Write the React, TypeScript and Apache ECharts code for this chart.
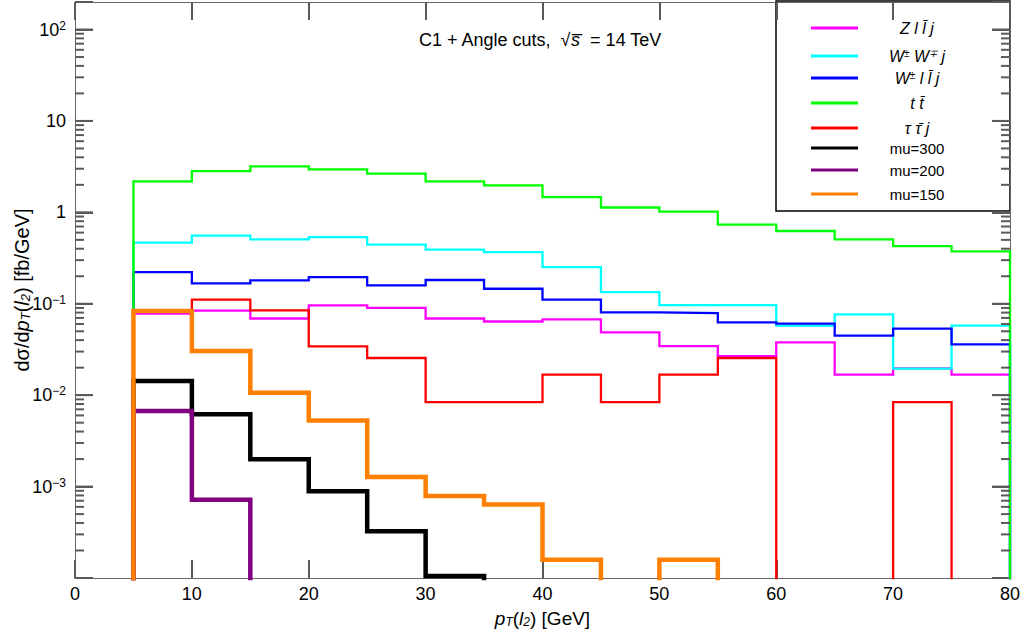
import React, { useEffect, useRef } from "react";
import * as echarts from "echarts";

// ---------- data ----------
const binEdges = [5, 10, 15, 20, 25, 30, 35, 40, 45, 50, 55, 60, 65, 70, 75, 80];

const zllj = [0.078, 0.084, 0.069, 0.096, 0.09, 0.069, 0.064, 0.0675, 0.0486, 0.0344, 0.0268, 0.0378, 0.0168, 0.0196, 0.0168];
const wwj = [0.466, 0.556, 0.507, 0.537, 0.443, 0.391, 0.368, 0.252, 0.134, 0.0968, 0.0968, 0.0576, 0.0766, 0.0195, 0.0576];
const wllj = [0.222, 0.167, 0.18, 0.196, 0.159, 0.182, 0.146, 0.111, 0.0805, 0.0792, 0.0626, 0.0605, 0.0448, 0.0534, 0.036];
const ttbar = [2.18, 2.83, 3.19, 2.95, 2.65, 2.18, 1.97, 1.47, 1.13, 1.02, 0.733, 0.625, 0.507, 0.428, 0.374];
const tautauj = [0.0847, 0.111, 0.0847, 0.0342, 0.0255, 0.0084, 0.0084, 0.0168, 0.0084, 0.0168, 0.0255, 0, 0, 0.0084, 0];
const mu300 = [0.0143, 0.0062, 0.00199, 0.00089, 0.000324, 0.000105, 0, 0, 0, 0, 0, 0, 0, 0, 0];
const mu200 = [0.0067, 0.00072, 0, 0, 0, 0, 0, 0, 0, 0, 0, 0, 0, 0, 0];
const mu150 = [0.0832, 0.0304, 0.0106, 0.0053, 0.00127, 0.000787, 0.000638, 0.000158, 0, 0.000158, 0, 0, 0, 0, 0];

const seriesKeys = ["zllj", "wwj", "wllj", "ttbar", "tautauj", "mu300", "mu200", "mu150"];
const seriesValues = [zllj, wwj, wllj, ttbar, tautauj, mu300, mu200, mu150];
const seriesColors = ["#ff00ff", "#00ffff", "#0000ff", "#00ff00", "#ff0000", "#000000", "#800080", "#ff8000"];
const seriesWidths = [2.3, 2.3, 2.3, 2.3, 2.3, 4.5, 4.5, 4.5];

// legend labels (rich text)
const legendLabels = [
  "{i|Z l l\u0304 j}",
  "{i|W}{sup|\u00b1}{i| W}{sup|\u2213}{i| j}",
  "{i|W}{sup|\u00b1}{i| l l\u0304 j}",
  "{i|t t\u0304}",
  "{i|\u03c4 \u03c4\u0304 j}",
  "{n|mu=300}",
  "{n|mu=200}",
  "{n|mu=150}",
];

// axis ticks
const xTicks = [0, 10, 20, 30, 40, 50, 60, 70, 80];
const yMajorValues = [0.001, 0.01, 0.1, 1, 10, 100];
const yMajorBase = ["10", "10", "10", "1", "10", "10"];
const yMajorExp = ["\u22123", "\u22122", "\u22121", "", "", "2"];
const yMinorMantissas = [2, 3, 4, 5, 6, 7, 8, 9];
const yDecades = [0.0001, 0.001, 0.01, 0.1, 1, 10, 100];

const X_MIN = 0;
const X_MAX = 80;
const Y_MIN = 0.0001;
const Y_MAX = 200;
const TINY = 1e-9;

const FONT = "'Liberation Sans', Arial, Helvetica, sans-serif";
const NARROW = "'Liberation Sans Narrow', 'Liberation Sans', Arial, sans-serif";
const TICK_COLOR = "#5a5a5a";

function histPoints(vals: number[]) {
  const pts: number[][] = [[binEdges[0], TINY]];
  vals.forEach((v, i) => {
    const y = v > 0 ? v : TINY;
    pts.push([binEdges[i], y]);
    pts.push([binEdges[i + 1], y]);
  });
  pts.push([binEdges[binEdges.length - 1], TINY]);
  return pts;
}

export default function App() {
  const ref = useRef<HTMLDivElement>(null);

  useEffect(() => {
    document.body.style.margin = "0";
    if (!ref.current) return;
    const chart = echarts.init(ref.current, undefined, { renderer: "svg" });

    // y tick marks: [kind, x, y]; kind 0 = minor, 1 = major
    const tickData: number[][] = [];
    yDecades.forEach((d) => {
      yMinorMantissas.forEach((m) => {
        const v = d * m;
        if (v < Y_MAX * 0.999) tickData.push([0, X_MIN, v]);
      });
    });
    yMajorValues.forEach((v) => tickData.push([1, X_MIN, v]));

    const lineSeries = seriesKeys.map((k, i) => ({
      name: k,
      type: "line",
      data: histPoints(seriesValues[i]),
      symbol: "none",
      showSymbol: false,
      clip: true,
      lineStyle: { color: seriesColors[i], width: seriesWidths[i], join: "miter" },
      itemStyle: { color: seriesColors[i] },
      z: 3,
      silent: true,
    }));

    const legendX0 = 776;
    const legendRows = [28, 56, 78, 103, 128, 148, 170, 194];
    const graphicEls: any[] = [
      {
        type: "rect",
        z: -2,
        shape: { x: legendX0, y: 1, width: 1010 - legendX0, height: 210 },
        style: { fill: "#ffffff", stroke: "#000000", lineWidth: 1.5 },
      },
    ];
    legendRows.forEach((y, i) => {
      graphicEls.push({
        type: "line",
        z: -1,
        shape: { x1: 811, y1: y, x2: 858, y2: y },
        style: { stroke: seriesColors[i], lineWidth: 3 },
      });
      graphicEls.push({
        type: "text",
        z: -1,
        x: 917,
        y: y,
        style: {
          text: legendLabels[i],
          align: "center",
          verticalAlign: "middle",
          textAlign: "center",
          textVerticalAlign: "middle",
          rich: {
            i: { fontFamily: FONT, fontStyle: "italic", fontSize: 16, fill: "#000" },
            n: { fontFamily: FONT, fontSize: 15, fill: "#000" },
            sup: { fontFamily: FONT, fontStyle: "italic", fontSize: 10, verticalAlign: "top", fill: "#000" },
          },
        },
      });
    });
    graphicEls.push({
      type: "text",
      x: 540,
      y: 40,
      style: {
        text: "{n|C1 + Angle cuts,  \u221a}{i|s\u0305}{n|  = 14 TeV}",
        align: "center",
        verticalAlign: "middle",
        textAlign: "center",
        textVerticalAlign: "middle",
        rich: {
          n: { fontFamily: FONT, fontSize: 18, fill: "#000" },
          i: { fontFamily: FONT, fontSize: 18, fontStyle: "italic", fill: "#000" },
        },
      },
    });

    const axisLineStyle = { color: "#666", width: 1 };
    const tickStyle = () => ({ color: TICK_COLOR, width: 2 });

    const option: any = {
      animation: false,
      backgroundColor: "#ffffff",
      grid: {
        left: 75,
        right: 14,
        top: 2,
        bottom: 61,
        containLabel: false,
        outerBoundsMode: "none",
        show: false,
      },
      xAxis: [
        {
          type: "value",
          min: X_MIN,
          max: X_MAX,
          interval: 10,
          position: "bottom",
          axisLine: { show: true, onZero: false, lineStyle: { ...axisLineStyle } },
          axisTick: { show: true, inside: true, length: 18, lineStyle: tickStyle() },
          axisLabel: {
            show: true,
            margin: 7,
            fontSize: 18,
            fontFamily: NARROW,
            color: "#000",
            formatter: (v: number) => (xTicks.indexOf(v) >= 0 ? String(v) : ""),
          },
          splitLine: { show: false },
          name: "{i|p}{sub|T}{n|(}{i|l}{sub|2}{n|) [GeV]}",
          nameLocation: "middle",
          nameGap: 31,
          nameMoveOverlap: false,
          nameTextStyle: {
            rich: {
              i: { fontFamily: FONT, fontStyle: "italic", fontSize: 19, color: "#000" },
              n: { fontFamily: FONT, fontSize: 19, color: "#000" },
              sub: { fontFamily: FONT, fontStyle: "italic", fontSize: 12, verticalAlign: "bottom", color: "#000" },
            },
          },
        },
        {
          type: "value",
          min: X_MIN,
          max: X_MAX,
          interval: 10,
          position: "top",
          axisLine: { show: true, onZero: false, lineStyle: { ...axisLineStyle } },
          axisTick: { show: true, inside: true, length: 18, lineStyle: tickStyle() },
          axisLabel: { show: false },
          splitLine: { show: false },
        },
      ],
      yAxis: [
        {
          type: "log",
          logBase: 10,
          min: Y_MIN,
          max: Y_MAX,
          position: "left",
          axisLine: { show: true, onZero: false, lineStyle: { ...axisLineStyle } },
          axisTick: { show: true, inside: true, length: 18, lineStyle: tickStyle() },
          axisLabel: {
            show: true,
            margin: 9,
            color: "#000",
            formatter: (v: number) => {
              for (let k = 0; k < yMajorValues.length; k++) {
                if (Math.abs(Math.log10(v) - Math.log10(yMajorValues[k])) < 1e-6) {
                  return yMajorExp[k]
                    ? `{b|${yMajorBase[k]}}{s|${yMajorExp[k]}}`
                    : `{b|${yMajorBase[k]}}`;
                }
              }
              return "";
            },
            rich: {
              b: { fontFamily: FONT, fontSize: 18, color: "#000" },
              s: { fontFamily: FONT, fontSize: 12, color: "#000", verticalAlign: "top", padding: [0, 0, 8, 0] },
            },
          },
          splitLine: { show: false },
          name: "{n|d\u03c3/d}{i|p}{sub|T}{n|(}{i|l}{sub|2}{n|) [fb/GeV]}",
          nameLocation: "middle",
          nameGap: 43,
          nameRotate: 90,
          nameMoveOverlap: false,
          nameTextStyle: {
            rich: {
              i: { fontFamily: FONT, fontStyle: "italic", fontSize: 20, color: "#000" },
              n: { fontFamily: FONT, fontSize: 20, color: "#000" },
              sub: { fontFamily: FONT, fontStyle: "italic", fontSize: 13, verticalAlign: "bottom", color: "#000" },
            },
          },
        },
        {
          type: "log",
          logBase: 10,
          min: Y_MIN,
          max: Y_MAX,
          position: "right",
          axisLine: { show: true, onZero: false, lineStyle: { ...axisLineStyle } },
          axisTick: { show: true, inside: true, length: 18, lineStyle: tickStyle() },
          axisLabel: { show: false },
          splitLine: { show: false },
        },
      ],
      series: [
        ...lineSeries,
        {
          type: "custom",
          name: "yTicks",
          silent: true,
          z: 4,
          xAxisIndex: 0,
          yAxisIndex: 0,
          clip: false,
          encode: { x: 1, y: 2 },
          data: tickData,
          renderItem: (params: any, api: any) => {
            const kind = api.value(0);
            const v = api.value(2);
            const len = kind === 1 ? 18 : 9;
            const pL = api.coord([X_MIN, v]);
            const pR = api.coord([X_MAX, v]);
            return {
              type: "group",
              children: [
                { type: "line", shape: { x1: pL[0], y1: pL[1], x2: pL[0] + len, y2: pL[1] }, style: { stroke: TICK_COLOR, lineWidth: 2 } },
                { type: "line", shape: { x1: pR[0], y1: pR[1], x2: pR[0] - len, y2: pR[1] }, style: { stroke: TICK_COLOR, lineWidth: 2 } },
              ],
            };
          },
        },
      ],
      graphic: graphicEls,
    };

    chart.setOption(option);
    return () => {
      chart.dispose();
    };
  }, []);

  return <div ref={ref} style={{ width: 1024, height: 639 }} />;
}
